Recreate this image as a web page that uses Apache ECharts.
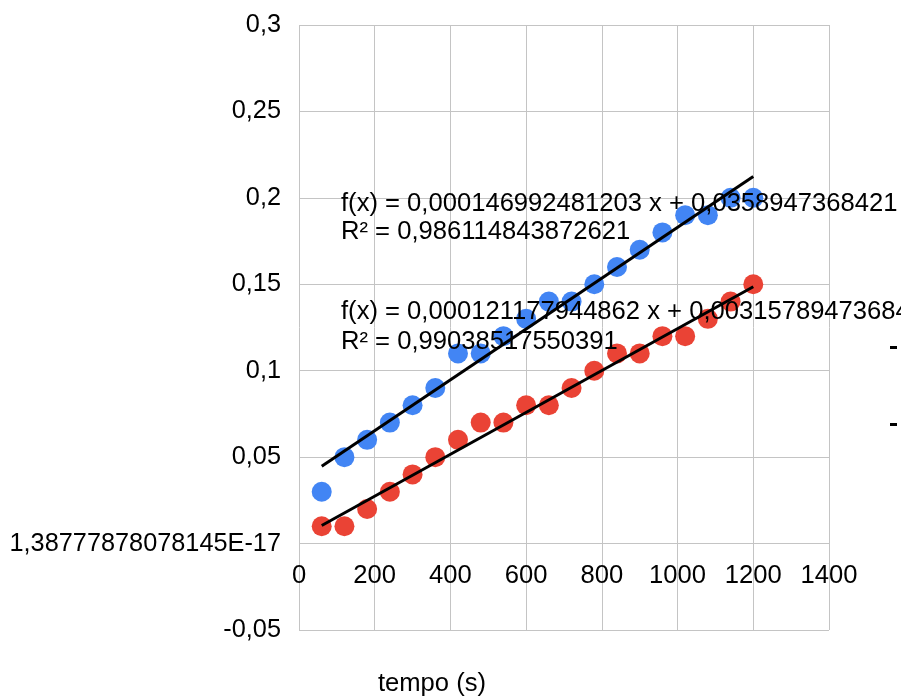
<!DOCTYPE html>
<html>
<head>
<meta charset="utf-8">
<script src="https://cdn.jsdelivr.net/npm/echarts@6/dist/echarts.min.js"></script>
<style>
html,body{margin:0;padding:0;background:#fff;}
#chart{width:901px;height:700px;}
</style>
</head>
<body>
<div id="chart"></div>
<script>
// ---- data ----
var times = [60,120,180,240,300,360,420,480,540,600,660,720,780,840,900,960,1020,1080,1140,1200];
var blueValues = [0.03,0.05,0.06,0.07,0.08,0.09,0.11,0.11,0.12,0.13,0.14,0.14,0.15,0.16,0.17,0.18,0.19,0.19,0.20,0.20];
var redValues  = [0.01,0.01,0.02,0.03,0.04,0.05,0.06,0.07,0.07,0.08,0.08,0.09,0.10,0.11,0.11,0.12,0.12,0.13,0.14,0.15];
var blueSlope = 0.000146992481203, blueIntercept = 0.0358947368421;
var redSlope  = 0.000121177944862, redIntercept  = 0.00315789473684;
var blueLabel = ['f(x) = 0,000146992481203 x + 0,0358947368421', 'R² = 0,986114843872621'];
var redLabel  = ['f(x) = 0,000121177944862 x + 0,00315789473684', 'R² = 0,99038517550391'];
var xTickLabels = ['0','200','400','600','800','1000','1200','1400'];
var yTickLabels = ['-0,05','1,38777878078145E-17','0,05','0,1','0,15','0,2','0,25','0,3'];
var xAxisName = 'tempo (s)';
var trendNames = ['Linear (Série azul)', 'Linear (Série vermelha)'];

// ---- build ----
function pairs(xs, ys){ return xs.map(function(x,i){ return [x, ys[i]]; }); }
function trend(m, b){
  var x0 = times[0], x1 = times[times.length-1];
  return [[x0, b + m*x0], [x1, b + m*x1]];
}
var FONT = '"Liberation Sans", Arial, sans-serif';
var FS = 25.6;
var GRID = '#c4c4c4';
var GRID_TOP = 25, GRID_BOTTOM = 70, CH = 700;
var Y_MIN = -0.05, Y_MAX = 0.3;
// offset of the x axis so that it sits on y = 0 (one interval above the bottom)
var xAxisOffset = -(CH - GRID_TOP - GRID_BOTTOM) * (0 - Y_MIN) / (Y_MAX - Y_MIN);
var chart = echarts.init(document.getElementById('chart'));
chart.setOption({
  animation: false,
  backgroundColor: '#ffffff',
  grid: {left: 299, right: 72, top: GRID_TOP, bottom: GRID_BOTTOM, containLabel: false},
  legend: {
    orient: 'vertical', left: 885, top: 330, itemGap: 52,
    icon: 'rect', itemWidth: 7, itemHeight: 3,
    textStyle: {fontSize: 25, fontFamily: FONT, color: '#000'},
    data: trendNames
  },
  xAxis: {
    type: 'value', min: 0, max: 1400, interval: 200,
    offset: xAxisOffset,
    axisLine: {show: false, onZero: false},
    axisTick: {show: false},
    splitLine: {show: true, lineStyle: {color: GRID, width: 1}},
    axisLabel: {
      margin: 19, color: '#000', fontSize: FS, fontFamily: FONT,
      formatter: function(v){ return xTickLabels[Math.round(v/200)]; }
    }
  },
  yAxis: {
    type: 'value', min: Y_MIN, max: Y_MAX, interval: 0.05,
    axisLine: {show: false}, axisTick: {show: false},
    splitLine: {show: true, lineStyle: {color: GRID, width: 1}},
    axisLabel: {
      margin: 18, color: '#000', fontSize: 25.3, fontFamily: FONT,
      formatter: function(v){ return yTickLabels[Math.round((v - Y_MIN)/0.05)]; }
    }
  },
  series: [
    {type: 'scatter', name: 'blue', data: pairs(times, blueValues), symbolSize: 20,
     itemStyle: {color: '#4285f4', opacity: 1}, z: 2},
    {type: 'scatter', name: 'red', data: pairs(times, redValues), symbolSize: 20,
     itemStyle: {color: '#ea4335', opacity: 1}, z: 2},
    {type: 'line', name: trendNames[0], data: trend(blueSlope, blueIntercept), showSymbol: false,
     symbol: 'none', lineStyle: {color: '#000', width: 3}, itemStyle: {color: '#000'}, z: 3},
    {type: 'line', name: trendNames[1], data: trend(redSlope, redIntercept), showSymbol: false,
     symbol: 'none', lineStyle: {color: '#000', width: 3}, itemStyle: {color: '#000'}, z: 3}
  ],
  graphic: [
    {type: 'text', left: 341, top: 190, z: 100,
     style: {text: blueLabel.join('\n'), font: FS + 'px ' + FONT, fill: '#000', lineHeight: 28}},
    {type: 'text', left: 341, top: 297, z: 100,
     style: {text: redLabel.join('\n'), font: FS + 'px ' + FONT, fill: '#000', lineHeight: 30}},
    {type: 'text', x: 432, y: 684, z: 100,
     style: {text: xAxisName, font: FS + 'px ' + FONT, fill: '#000', align: 'center', verticalAlign: 'middle'}}
  ]
});
</script>
</body>
</html>
